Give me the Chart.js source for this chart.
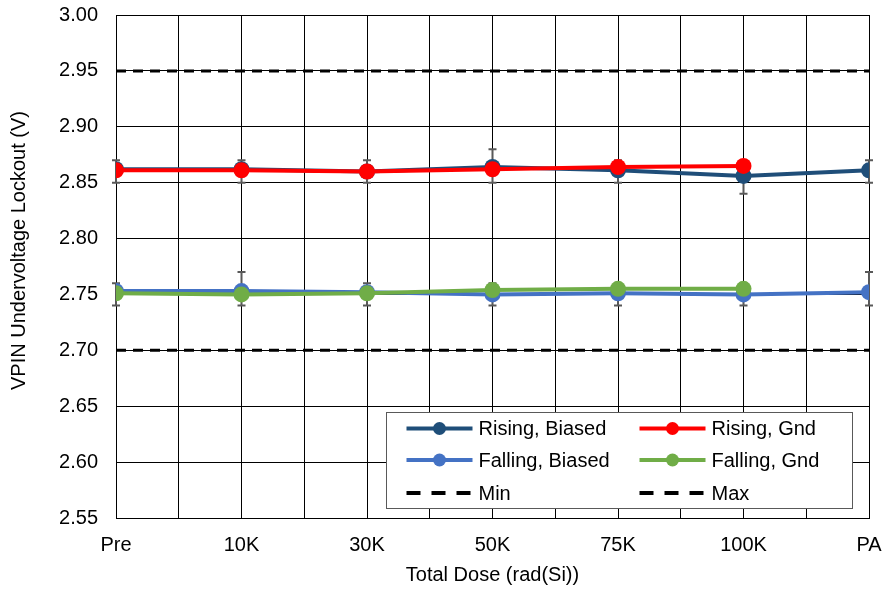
<!DOCTYPE html>
<html>
<head>
<meta charset="utf-8">
<title>VPIN Undervoltage Lockout vs Total Dose</title>
<script src="https://cdn.jsdelivr.net/npm/chart.js@4/dist/chart.umd.min.js"></script>
<style>
  html, body { margin: 0; padding: 0; background: #ffffff; }
  #wrap { width: 884px; height: 590px; position: relative; }
</style>
</head>
<body>
<div id="wrap"><canvas id="uvloChart"></canvas></div>
<script>
// Dose steps along the x axis
const doseLabels = ['Pre', '10K', '30K', '50K', '75K', '100K', 'PA'];

// UVLO thresholds (V) at each dose step
const risingBiased  = [2.862, 2.862, 2.860, 2.864, 2.861, 2.856, 2.861];
const risingGnd     = [2.861, 2.861, 2.860, 2.862, 2.864, 2.865, null];
const fallingBiased = [2.753, 2.753, 2.752, 2.750, 2.751, 2.750, 2.752];
const fallingGnd    = [2.751, 2.750, 2.751, 2.754, 2.755, 2.755, null];

// Spread (low / high) of the biased units
const risingBiasedLow   = [2.85, 2.85, 2.85, 2.85, 2.85, 2.84, 2.85];
const risingBiasedHigh  = [2.87, 2.87, 2.87, 2.88, 2.87, 2.86, 2.87];
const fallingBiasedLow  = [2.74, 2.74, 2.74, 2.74, 2.74, 2.74, 2.74];
const fallingBiasedHigh = [2.76, 2.77, 2.76, 2.76, 2.76, 2.76, 2.77];

// Specification limits
const minLimit = [2.70, 2.70, 2.70, 2.70, 2.70, 2.70, 2.70];
const maxLimit = [2.95, 2.95, 2.95, 2.95, 2.95, 2.95, 2.95];

// Y axis range
const yMin = 2.55;
const yMax = 3.00;
const yStep = 0.05;

const xTitle = 'Total Dose (rad(Si))';
const yTitle = 'VPIN Undervoltage Lockout (V)';

const FONT_FAMILY = "'Liberation Sans', Arial, Helvetica, sans-serif";
const FONT_SIZE = 20;

const toPoints = values => values.map((v, i) => ({ x: i, y: v }));

function lineSeries(label, values, color, order) {
  return {
    label,
    data: toPoints(values),
    borderColor: color,
    backgroundColor: color,
    borderWidth: 4,
    pointRadius: 8,
    pointHoverRadius: 8,
    pointBorderWidth: 0,
    pointHoverBorderWidth: 0,
    pointBackgroundColor: color,
    tension: 0,
    spanGaps: false,
    order
  };
}

function limitSeries(label, values, order) {
  return {
    label,
    data: toPoints(values),
    borderColor: '#000000',
    backgroundColor: '#000000',
    borderWidth: 3,
    borderDash: [10, 7],
    pointRadius: 0,
    pointHoverRadius: 0,
    tension: 0,
    order
  };
}

const datasets = [
  lineSeries('Rising, Biased', risingBiased, '#1F4E79', 3),
  lineSeries('Rising, Gnd', risingGnd, '#FF0000', 1),
  lineSeries('Falling, Biased', fallingBiased, '#4472C4', 4),
  lineSeries('Falling, Gnd', fallingGnd, '#70AD47', 2),
  limitSeries('Min', minLimit, 5),
  limitSeries('Max', maxLimit, 5)
];

// Error bars for the biased series, drawn beneath the lines and markers
const errorSets = [
  { low: risingBiasedLow, high: risingBiasedHigh },
  { low: fallingBiasedLow, high: fallingBiasedHigh }
];

const errorBarPlugin = {
  id: 'errorBars',
  beforeDatasetsDraw(chart) {
    const { ctx, scales: { x, y } } = chart;
    ctx.save();
    ctx.strokeStyle = '#595959';
    ctx.lineWidth = 2;
    const cap = 4;
    errorSets.forEach(set => {
      set.low.forEach((lo, i) => {
        const hi = set.high[i];
        const px = x.getPixelForValue(i);
        const yLo = y.getPixelForValue(lo);
        const yHi = y.getPixelForValue(hi);
        ctx.beginPath();
        ctx.moveTo(px, yLo); ctx.lineTo(px, yHi);
        ctx.moveTo(px - cap, yLo); ctx.lineTo(px + cap, yLo);
        ctx.moveTo(px - cap, yHi); ctx.lineTo(px + cap, yHi);
        ctx.stroke();
      });
    });
    ctx.restore();
  }
};

// Vertical axis title, set a little above the middle of the plot
const yTitlePlugin = {
  id: 'yTitle',
  afterDraw(chart) {
    const { ctx, chartArea } = chart;
    const cy = (chartArea.top + chartArea.bottom) / 2 - 16;
    ctx.save();
    ctx.translate(19, cy);
    ctx.rotate(-Math.PI / 2);
    ctx.font = FONT_SIZE + 'px ' + FONT_FAMILY;
    ctx.fillStyle = '#000000';
    ctx.textAlign = 'center';
    ctx.textBaseline = 'middle';
    ctx.fillText(yTitle, 0, 0);
    ctx.restore();
  }
};

// Two-column boxed legend in the lower right of the plot
const boxLegendPlugin = {
  id: 'boxLegend',
  afterDraw(chart) {
    const { ctx, chartArea } = chart;
    const boxW = 466, boxH = 96;
    const bx = Math.round(chartArea.right - 17 - boxW) + 0.5;
    const by = Math.round(chartArea.bottom - 10 - boxH) + 0.5;
    ctx.save();
    ctx.fillStyle = '#ffffff';
    ctx.fillRect(bx, by, boxW, boxH);
    ctx.strokeStyle = '#595959';
    ctx.lineWidth = 1;
    ctx.strokeRect(bx, by, boxW, boxH);

    const rows = [16, 47.5, 80.5];
    const cols = [20, 253];
    const sampleLen = 66;
    ctx.font = FONT_SIZE + 'px ' + FONT_FAMILY;
    ctx.textBaseline = 'middle';
    ctx.textAlign = 'left';
    datasets.forEach((ds, i) => {
      const cx = bx + cols[i % 2];
      const cy = by + rows[Math.floor(i / 2)];
      ctx.strokeStyle = ds.borderColor;
      ctx.lineWidth = 4;
      ctx.setLineDash(ds.borderDash ? [14, 11] : []);
      ctx.beginPath();
      ctx.moveTo(cx, cy);
      ctx.lineTo(cx + sampleLen, cy);
      ctx.stroke();
      ctx.setLineDash([]);
      if (ds.pointRadius > 0) {
        ctx.fillStyle = ds.borderColor;
        ctx.beginPath();
        ctx.arc(cx + sampleLen / 2, cy, 6.5, 0, Math.PI * 2);
        ctx.fill();
      }
      ctx.fillStyle = '#000000';
      ctx.fillText(ds.label, cx + sampleLen + 6, cy + 1);
    });
    ctx.restore();
  }
};

const tickFont = { family: FONT_FAMILY, size: FONT_SIZE };

new Chart(document.getElementById('uvloChart'), {
  type: 'line',
  data: { datasets },
  plugins: [errorBarPlugin, yTitlePlugin, boxLegendPlugin],
  options: {
    responsive: true,
    maintainAspectRatio: false,
    animation: false,
    layout: { autoPadding: false, padding: { top: 15, right: 15, bottom: 0, left: 0 } },
    plugins: {
      legend: { display: false },
      tooltip: { enabled: false }
    },
    scales: {
      x: {
        type: 'linear',
        min: 0,
        max: doseLabels.length - 1,
        ticks: {
          stepSize: 0.5,
          autoSkip: false,
          maxTicksLimit: 40,
          maxRotation: 0,
          padding: 15,
          color: '#000000',
          font: tickFont,
          callback: v => Number.isInteger(v) ? doseLabels[v] : ''
        },
        grid: { color: '#000000', lineWidth: 1, drawTicks: false },
        border: { color: '#000000', width: 1 },
        title: {
          display: true,
          text: xTitle,
          color: '#000000',
          font: tickFont,
          padding: { top: 0, bottom: 3 }
        },
        afterFit(scale) {
          scale.height = 72;
          scale.paddingLeft = 0;
          scale.paddingRight = 0;
        }
      },
      y: {
        min: yMin,
        max: yMax,
        ticks: {
          stepSize: yStep,
          padding: 18,
          color: '#000000',
          font: tickFont,
          callback: v => Number(v).toFixed(2)
        },
        grid: { color: '#000000', lineWidth: 1, drawTicks: false },
        border: { color: '#000000', width: 1 },
        title: { display: false },
        afterFit(scale) {
          scale.width = 116;
          scale.paddingTop = 0;
          scale.paddingBottom = 0;
        }
      }
    }
  }
});
</script>
</body>
</html>
